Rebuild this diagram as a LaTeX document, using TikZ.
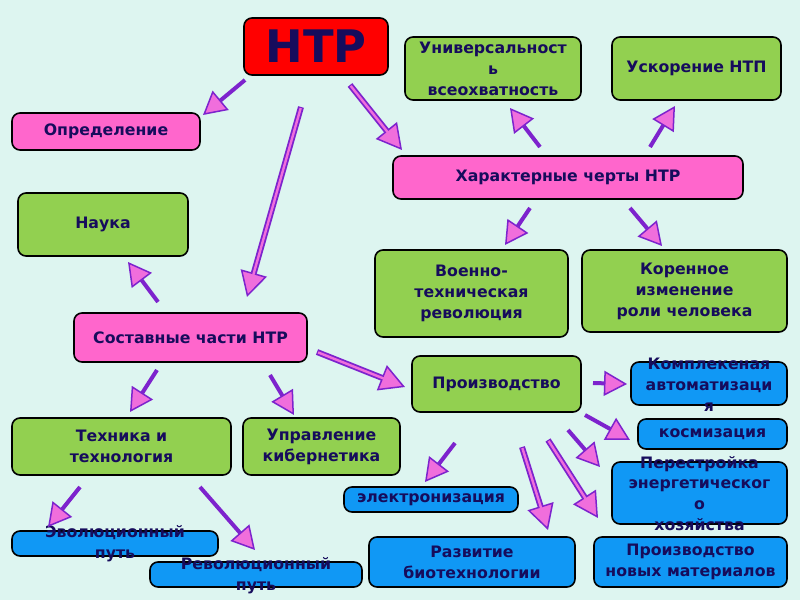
\documentclass[tikz,border=0pt]{standalone}
\usepackage{fontspec}
\setmainfont{DejaVu Sans}
\usetikzlibrary{arrows.meta}
\definecolor{bgc}{RGB}{221,245,240}
\definecolor{gfill}{RGB}{146,208,80}
\definecolor{pfill}{RGB}{255,102,204}
\definecolor{bfill}{RGB}{16,152,245}
\definecolor{rfill}{RGB}{255,0,0}
\definecolor{navy}{RGB}{22,12,92}
\definecolor{apurple}{RGB}{125,35,205}
\definecolor{apink}{RGB}{240,110,220}
\tikzset{
  box/.style={draw=black, line width=1.6bp, rounded corners=8bp, inner sep=0pt},
  gbox/.style={box, fill=gfill},
  pbox/.style={box, fill=pfill},
  bbox/.style={box, fill=bfill},
  rbox/.style={box, fill=rfill},
  txt/.style={font=\bfseries\fontsize{15.8}{21}\selectfont, text=navy, align=center, inner sep=0pt},
  arr/.style={draw=apurple, line width=4bp, -{Triangle[length=23bp,width=25bp,fill=apink,line width=1.5bp]}},
  arrd/.style={draw=apurple, line width=6bp, -{Triangle[length=25bp,width=27bp,fill=apink,line width=1.5bp]}},
  inner/.style={draw=apink, line width=2.4bp, shorten >=23bp, shorten <=1.2bp}
}
\newcommand{\bx}[7]{% style, name, x, y, w, h, text
  \node[#1, minimum width=#5bp, minimum height=#6bp] (#2) at (#3,#4) {};
  \node[txt] (#2-t) at (#2.center) {#7};
}
\begin{document}
\begin{tikzpicture}[x=1bp,y=-1bp]
\fill[bgc] (0,0) rectangle (800,600);
\useasboundingbox (0,0) rectangle (800,600);

% boxes
\node[rbox, minimum width=144bp, minimum height=57bp] (ntr) at (316,46.5) {};
\node[font=\bfseries\fontsize{45}{48}\selectfont, text=navy, inner sep=0pt] (ntr-t) at (ntr.center) {НТР};
\bx{pbox}{def}{106}{131.5}{188}{37}{Определение}
\bx{gbox}{nauka}{103}{224.5}{170}{63}{Наука}
\bx{pbox}{sost}{190.5}{337.5}{233}{49}{Составные части НТР}
\bx{gbox}{tech}{121.5}{446.5}{219}{57}{Техника и\\технология}
\bx{gbox}{upr}{321.5}{446.5}{157}{57}{Управление\\кибернетика}
\node[bbox, minimum width=206bp, minimum height=25bp] (evol) at (115,543.5) {};
\node[txt] (evol-t) at (115,544) {Эволюционный\\путь};
\node[bbox, minimum width=212bp, minimum height=25bp] (rev) at (256,574.5) {};
\node[txt] (rev-t) at (256,576) {Революционный\\путь};
\bx{gbox}{univ}{493}{68.5}{176}{63}{Универсальност\\ь\\всеохватность}
\bx{gbox}{usk}{696.5}{68.5}{169}{63}{Ускорение НТП}
\bx{pbox}{har}{568}{177.5}{350}{43}{Характерные черты НТР}
\bx{gbox}{voen}{471.5}{293.5}{193}{87}{Военно-\\техническая\\революция}
\bx{gbox}{kor}{684.5}{291}{205}{82}{Коренное\\изменение\\роли человека}
\bx{gbox}{proizv}{496.5}{384}{169}{56}{Производство}
\node[bbox, minimum width=156bp, minimum height=43bp] (kompl) at (709,383.5) {};
\node[txt] (kompl-t) at (709,385) {Комплекеная\\автоматизаци\\я};
\bx{bbox}{kosm}{712.5}{434}{149}{30}{космизация}
\node[bbox, minimum width=175bp, minimum height=62bp] (perestr) at (699.5,493) {};
\node[txt] (perestr-t) at (699.5,493.5) {Перестройка\\энергетическог\\о\\хозяйства};
\bx{bbox}{elektr}{431}{499.5}{174}{25}{электронизация}
\bx{bbox}{razv}{472}{562}{206}{50}{Развитие\\биотехнологии}
\bx{bbox}{novyh}{690.5}{562}{193}{50}{Производство\\новых материалов}

% arrow end points
\coordinate (a1s) at (245,80);  \coordinate (a1e) at (203,115);
\coordinate (a2s) at (301,107); \coordinate (a2e) at (247,297);
\coordinate (a3s) at (350,85);  \coordinate (a3e) at (402,150);
\coordinate (a4s) at (540,147); \coordinate (a4e) at (510,108);
\coordinate (a5s) at (650,147); \coordinate (a5e) at (675,106);
\coordinate (a6s) at (530,208); \coordinate (a6e) at (505,245);
\coordinate (a7s) at (630,208); \coordinate (a7e) at (662,246);
\coordinate (a8s) at (158,302); \coordinate (a8e) at (128,262);
\coordinate (a9s) at (157,370); \coordinate (a9e) at (130,412);
\coordinate (a10s) at (270,375); \coordinate (a10e) at (294,415);
\coordinate (a11s) at (317,352); \coordinate (a11e) at (405,387);
\coordinate (a12s) at (80,487);  \coordinate (a12e) at (48,527);
\coordinate (a13s) at (200,487); \coordinate (a13e) at (255,550);
\coordinate (a14s) at (593,383); \coordinate (a14e) at (627,384);
\coordinate (a15s) at (585,415); \coordinate (a15e) at (630,440);
\coordinate (a16s) at (568,430); \coordinate (a16e) at (600,467);
\coordinate (a17s) at (548,440); \coordinate (a17e) at (598,518);
\coordinate (a18s) at (522,447); \coordinate (a18e) at (548,530);
\coordinate (a19s) at (455,443); \coordinate (a19e) at (425,482);

% solid arrows
\foreach \i in {1,4,5,6,7,8,9,10,12,13,14,15,16,19}
  \draw[arr] (a\i s) -- (a\i e);
% double arrows
\foreach \i in {2,3,11,17,18}{
  \draw[arrd] (a\i s) -- (a\i e);
  \draw[inner] (a\i s) -- (a\i e);
}
\end{tikzpicture}
\end{document}
